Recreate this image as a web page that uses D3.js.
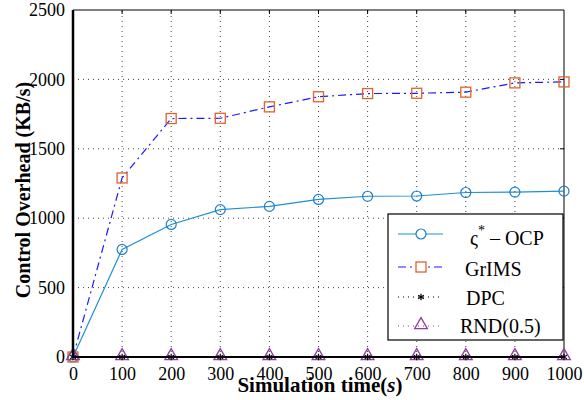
<!DOCTYPE html>
<html>
<head>
<meta charset="utf-8">
<script src="https://cdn.jsdelivr.net/npm/d3@7"></script>
<style>
  body { margin: 0; background: #fff; }
</style>
</head>
<body>
<svg id="chart" width="584" height="400"></svg>
<script>
// data
const times = [0, 100, 200, 300, 400, 500, 600, 700, 800, 900, 1000];
const ocp = [0, 775, 955, 1062, 1085, 1135, 1158, 1160, 1185, 1188, 1195];
const grims = [0, 1290, 1718, 1720, 1802, 1875, 1898, 1900, 1908, 1975, 1982];
const dpc = [0, 0, 0, 0, 0, 0, 0, 0, 0, 0, 0];
const rnd = [0, 0, 0, 0, 0, 0, 0, 0, 0, 0, 0];
const xTicks = [0, 100, 200, 300, 400, 500, 600, 700, 800, 900, 1000];
const yTicks = [0, 500, 1000, 1500, 2000, 2500];

const FONT = '"Liberation Serif", "Times New Roman", serif';
const svg = d3.select('#chart');
const m = { left: 73, right: 20, top: 10, bottom: 43 };
const W = 584, H = 400;
const x = d3.scaleLinear().domain([0, 1000]).range([m.left, W - m.right]);
const y = d3.scaleLinear().domain([0, 2500]).range([H - m.bottom, m.top]);

// grid
const grid = svg.append('g');
grid.selectAll('.gx').data(xTicks.slice(1, -1)).join('line')
    .attr('x1', d => x(d)).attr('x2', d => x(d))
    .attr('y1', y(0)).attr('y2', y(2500))
    .attr('stroke', '#444').attr('stroke-width', 1).attr('stroke-dasharray', '1,4');
grid.selectAll('.gy').data(yTicks.slice(1, -1)).join('line')
    .attr('x1', x(0)).attr('x2', x(1000))
    .attr('y1', d => y(d)).attr('y2', d => y(d))
    .attr('stroke', '#444').attr('stroke-width', 1).attr('stroke-dasharray', '1,4');

// axes
const fmt = d3.format('d');
const xAxis = d3.axisBottom(x).tickValues(xTicks).tickFormat(fmt).tickSize(0).tickPadding(23);
const yAxis = d3.axisLeft(y).tickValues(yTicks).tickFormat(fmt).tickSize(0).tickPadding(8);
svg.append('g').attr('transform', `translate(0,${y(0)})`).call(xAxis)
    .call(g => g.select('.domain').remove())
    .selectAll('text').attr('dy', null).attr('font-size', 18).attr('fill', '#000');
svg.append('g').attr('transform', `translate(${x(0)},0)`).call(yAxis)
    .call(g => g.select('.domain').remove())
    .selectAll('text').attr('font-size', 18).attr('fill', '#000');

// small ticks on top and right borders
svg.append('g').selectAll('line').data(xTicks.slice(1, -1)).join('line')
    .attr('x1', d => x(d)).attr('x2', d => x(d))
    .attr('y1', y(2500)).attr('y2', y(2500) + 4).attr('stroke', '#000');
svg.append('g').selectAll('line').data(yTicks.slice(1, -1)).join('line')
    .attr('x1', x(1000)).attr('x2', x(1000) - 4)
    .attr('y1', d => y(d)).attr('y2', d => y(d)).attr('stroke', '#000');

// frame
svg.append('line').attr('x1', x(0)).attr('x2', x(1000)).attr('y1', y(2500)).attr('y2', y(2500))
    .attr('stroke', '#000').attr('stroke-width', 1);
svg.append('line').attr('x1', x(1000)).attr('x2', x(1000)).attr('y1', y(2500)).attr('y2', y(0))
    .attr('stroke', '#000').attr('stroke-width', 1);

const pts = vals => times.map((t, i) => [t, vals[i]]);
const line = d3.line().x(d => x(d[0])).y(d => y(d[1]));

// OCP
svg.append('path').datum(pts(ocp)).attr('d', line)
    .attr('fill', 'none').attr('stroke', '#1f8fd4').attr('stroke-width', 1.2);
svg.append('g').selectAll('circle').data(pts(ocp)).join('circle')
    .attr('cx', d => x(d[0])).attr('cy', d => y(d[1])).attr('r', 5)
    .attr('fill', 'none').attr('stroke', '#1f7fc8').attr('stroke-width', 1.2);

// GrIMS
svg.append('path').datum(pts(grims)).attr('d', line)
    .attr('fill', 'none').attr('stroke', '#1a1aff').attr('stroke-width', 1.2)
    .attr('stroke-dasharray', '8,4,2,4');
svg.append('g').selectAll('rect').data(pts(grims)).join('rect')
    .attr('x', d => x(d[0]) - 5).attr('y', d => y(d[1]) - 5).attr('width', 10).attr('height', 10)
    .attr('fill', 'none').attr('stroke', '#e0622a').attr('stroke-width', 1.3);

// DPC / RND
svg.append('path').datum(pts(rnd)).attr('d', line)
    .attr('fill', 'none').attr('stroke', '#b030b0').attr('stroke-width', 1).attr('stroke-dasharray', '1,3');
svg.append('path').datum(pts(dpc)).attr('d', line)
    .attr('fill', 'none').attr('stroke', '#000').attr('stroke-width', 1).attr('stroke-dasharray', '1,3');

const tri = d3.symbol().type(d3.symbolTriangle).size(70);
svg.append('g').selectAll('path').data(pts(rnd)).join('path')
    .attr('transform', d => `translate(${x(d[0])},${y(d[1]) - 1})`)
    .attr('d', tri).attr('fill', 'none').attr('stroke', '#8e3fa0').attr('stroke-width', 1.3);
const star = d3.symbol().type(d3.symbolAsterisk).size(30);
svg.append('g').selectAll('path').data(pts(dpc)).join('path')
    .attr('transform', d => `translate(${x(d[0])},${y(d[1])})`)
    .attr('d', star).attr('fill', 'none').attr('stroke', '#000').attr('stroke-width', 1.2);

// left and bottom thick axis lines
svg.append('line').attr('x1', x(0)).attr('x2', x(0)).attr('y1', y(2500)).attr('y2', y(0))
    .attr('stroke', '#000').attr('stroke-width', 2.5);
svg.append('line').attr('x1', x(0)).attr('x2', x(1000)).attr('y1', y(0)).attr('y2', y(0))
    .attr('stroke', '#000').attr('stroke-width', 2);

// axis titles
svg.append('text').attr('x', 320).attr('y', 392).attr('text-anchor', 'middle')
    .attr('font-size', 21).attr('font-weight', 'bold')
    .html('Simulation time(<tspan style="font-style:italic">s</tspan>)');
svg.append('text').attr('transform', 'translate(30,190) rotate(-90)').attr('text-anchor', 'middle')
    .attr('font-size', 20).attr('font-weight', 'bold')
    .text('Control Overhead (KB/s)');

// legend
const leg = svg.append('g');
leg.append('rect').attr('x', 388).attr('y', 214).attr('width', 175).attr('height', 126)
    .attr('fill', '#fff').attr('stroke', '#000').attr('stroke-width', 1.2);
const lx1 = 398, lx2 = 443, lm = 421;
const rows = [234, 267, 297, 326];
leg.append('line').attr('x1', lx1).attr('x2', lx2).attr('y1', rows[0]).attr('y2', rows[0])
    .attr('stroke', '#1f8fd4').attr('stroke-width', 1.2);
leg.append('circle').attr('cx', lm).attr('cy', rows[0]).attr('r', 5)
    .attr('fill', '#fff').attr('stroke', '#1f7fc8').attr('stroke-width', 1.2);
leg.append('line').attr('x1', lx1).attr('x2', lx2).attr('y1', rows[1]).attr('y2', rows[1])
    .attr('stroke', '#1a1aff').attr('stroke-width', 1.2).attr('stroke-dasharray', '8,4,2,4');
leg.append('rect').attr('x', lm - 5).attr('y', rows[1] - 5).attr('width', 10).attr('height', 10)
    .attr('fill', '#fff').attr('stroke', '#e0622a').attr('stroke-width', 1.3);
leg.append('line').attr('x1', lx1).attr('x2', lx2).attr('y1', rows[2]).attr('y2', rows[2])
    .attr('stroke', '#000').attr('stroke-dasharray', '1,4');
leg.append('path').attr('transform', `translate(${lm},${rows[2]})`).attr('d', star)
    .attr('fill', 'none').attr('stroke', '#000').attr('stroke-width', 1.2);
leg.append('line').attr('x1', lx1).attr('x2', lx2).attr('y1', rows[3]).attr('y2', rows[3])
    .attr('stroke', '#b030b0').attr('stroke-dasharray', '1,4');
leg.append('path').attr('transform', `translate(${lm},${rows[3] - 1})`).attr('d', tri)
    .attr('fill', 'none').attr('stroke', '#8e3fa0').attr('stroke-width', 1.3);

leg.append('text').attr('x', 470).attr('y', 245).attr('font-size', 20)
    .html('ς<tspan dy="-10" font-size="14">*</tspan><tspan dy="10"> – OCP</tspan>');
leg.append('text').attr('x', 465).attr('y', 276).attr('font-size', 20).text('GrIMS');
leg.append('text').attr('x', 466).attr('y', 305).attr('font-size', 20).text('DPC');
leg.append('text').attr('x', 460).attr('y', 333).attr('font-size', 20).text('RND(0.5)');

// serif everywhere
svg.selectAll('text').style('font-family', FONT);
svg.selectAll('g').attr('font-family', null);
</script>
</body>
</html>
